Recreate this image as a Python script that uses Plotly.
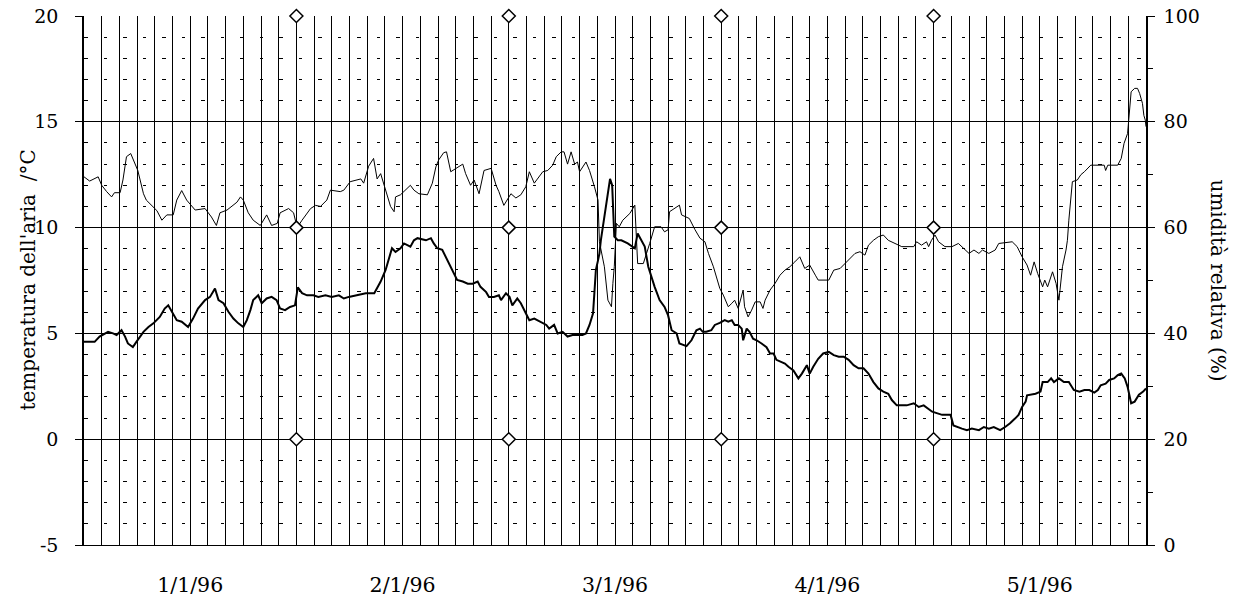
import plotly.graph_objects as go

# ---------------- data ----------------
# time axis in days from the left edge of the chart (each month label spaced 30 days)
label_days = [15, 45, 75, 105, 135]
label_text = ["1/1/96", "2/1/96", "3/1/96", "4/1/96", "5/1/96"]

temp_ticks = [-5, 0, 5, 10, 15, 20]
temp_tick_text = ["-5", "0", "5", "10", "15", "20"]

# thin line: air temperature (°C), left axis
temp_day = [
    0.0, 0.8, 2.0, 2.5, 3.2, 3.9, 4.3, 5.1, 5.5, 6.0,
    6.6, 6.9, 7.6, 8.4, 8.8, 10.3, 11.0, 11.7, 12.6, 13.1,
    13.8, 14.5, 15.7, 17.1, 18.0, 18.7, 19.2, 20.2, 21.6, 22.1,
    22.5, 23.2, 23.9, 24.9, 25.8, 26.5, 27.3, 27.7, 28.9, 29.6,
    30.1, 30.8, 32.0, 32.7, 33.4, 34.3, 34.8, 36.2, 36.7, 37.6,
    39.1, 39.5, 40.2, 40.9, 41.4, 41.9, 42.6, 43.3, 43.8, 44.0,
    44.7, 45.4, 46.1, 46.6, 47.3, 48.5, 49.2, 49.7, 50.1, 50.8,
    51.2, 51.8, 52.5, 53.5, 53.9, 54.6, 55.1, 55.8, 56.5, 57.5,
    58.2, 58.6, 59.3, 60.3, 61.0, 61.7, 62.4, 62.9, 63.6, 64.3,
    64.8, 65.5, 66.2, 66.7, 67.4, 67.8, 68.3, 68.8, 69.3, 69.7,
    70.0, 70.9, 71.4, 72.1, 72.6, 72.8, 73.5, 74.0, 74.5, 74.7,
    74.9, 75.2, 75.6, 76.1, 77.1, 77.8, 78.0, 78.2, 79.0, 79.4,
    79.9, 80.6, 81.5, 82.0, 82.5, 82.7, 83.4, 84.1, 84.4, 85.5,
    86.3, 87.0, 87.7, 88.2, 88.9, 89.3, 89.8, 90.3, 91.0, 91.5,
    91.9, 92.4, 92.9, 93.1, 93.3, 93.8, 94.3, 94.8, 95.5, 95.9,
    96.2, 96.9, 97.6, 98.3, 99.0, 99.7, 100.4, 101.1, 101.8, 102.5,
    103.3, 103.7, 105.2, 105.9, 106.8, 107.5, 108.2, 108.9, 109.6, 110.3,
    110.8, 111.5, 112.2, 112.9, 113.6, 114.1, 115.5, 117.2, 117.6, 118.3,
    119.0, 119.3, 119.7, 120.2, 120.7, 121.6, 122.6, 123.5, 124.2, 125.0,
    125.7, 126.4, 126.9, 127.8, 128.7, 129.2, 131.1, 131.8, 132.5, 133.2,
    133.7, 134.2, 134.7, 135.4, 135.7, 136.1, 136.8, 137.3, 137.7, 138.2,
    138.7, 138.9, 139.1, 139.4, 139.6, 140.3, 140.8, 141.3, 142.2, 144.1,
    144.3, 144.6, 146.0, 146.5, 146.9, 147.4, 147.7, 147.9, 148.4, 148.8,
    149.1, 149.5, 149.7, 149.9, 150.0,
]
temp_c = [
    12.4, 12.2, 12.4, 12.0, 11.7, 11.45, 11.65, 11.65, 12.25, 13.35,
    13.5, 13.27, 12.7, 11.6, 11.3, 10.8, 10.35, 10.6, 10.6, 11.3,
    11.75, 11.3, 10.83, 10.9, 10.5, 10.1, 10.7, 10.83, 11.2, 11.45,
    11.3, 10.7, 10.35, 10.1, 10.6, 10.1, 10.2, 10.7, 10.9, 10.7,
    10.0, 10.35, 10.9, 11.05, 11.0, 11.3, 11.77, 11.7, 11.77, 12.17,
    12.3, 12.1, 12.9, 13.27, 12.3, 12.55, 11.77, 11.0, 10.75, 11.45,
    11.55, 11.77, 12.0, 11.77, 11.6, 11.55, 12.1, 12.87, 13.2, 13.54,
    13.58, 12.64, 12.8, 13.0, 12.55, 12.0, 12.25, 11.6, 12.7, 12.8,
    12.0, 11.7, 11.05, 11.6, 11.4, 11.55, 11.93, 12.64, 12.1, 12.4,
    12.64, 12.7, 12.95, 13.35, 13.58, 13.58, 13.0, 13.58, 13.0, 13.1,
    12.64, 13.1, 12.7, 11.93, 11.3, 9.33, 8.15, 6.57, 6.26, 7.36,
    8.15, 10.2, 10.04, 10.35, 10.67, 11.06, 9.73, 8.3, 8.3, 8.78,
    9.25, 10.04, 10.04, 9.8, 9.9, 10.75, 10.9, 11.06, 10.6, 10.43,
    9.9, 9.5, 9.33, 8.78, 8.15, 7.67, 7.13, 6.81, 6.26, 6.42,
    6.57, 6.18, 6.73, 7.05, 6.26, 5.78, 6.1, 6.49, 6.49, 6.18,
    6.57, 7.05, 7.36, 7.75, 7.99, 8.15, 8.38, 8.62, 8.07, 8.23,
    7.75, 7.52, 7.52, 7.99, 8.07, 8.3, 8.54, 8.78, 8.86, 8.7,
    9.17, 9.4, 9.57, 9.65, 9.4, 9.33, 9.1, 9.1, 9.33, 9.17,
    9.33, 9.1, 9.4, 9.65, 9.33, 9.1, 9.1, 9.25, 9.02, 8.78,
    8.94, 8.78, 8.94, 8.78, 8.94, 9.25, 9.33, 9.1, 8.62, 8.23,
    7.75, 8.38, 7.83, 7.2, 7.52, 7.2, 7.91, 7.36, 6.57, 8.15,
    8.94, 9.4, 10.35, 11.3, 12.17, 12.25, 12.5, 12.64, 12.95, 12.95,
    12.7, 12.95, 12.95, 13.27, 13.98, 14.45, 15.56, 16.42, 16.58, 16.58,
    16.34, 15.87, 15.3, 15.08, 14.77,
]

# thick line: relative humidity (%), right axis
hum_day = [
    0.0, 1.5, 2.2, 3.4, 4.1, 4.6, 5.3, 5.8, 6.2, 6.9,
    7.4, 7.9, 8.4, 9.1, 9.8, 10.7, 11.4, 11.9, 12.4, 13.1,
    13.8, 14.3, 14.7, 15.4, 16.1, 17.1, 17.8, 18.5, 19.0, 19.7,
    20.4, 21.1, 21.8, 22.5, 23.0, 23.5, 23.9, 24.6, 25.1, 25.8,
    26.5, 27.2, 27.7, 28.4, 29.1, 29.8, 30.2, 30.8, 31.5, 32.4,
    33.1, 34.1, 35.0, 36.0, 36.7, 37.4, 38.6, 39.8, 41.0, 41.6,
    41.9, 42.6, 43.1, 43.5, 44.0, 44.7, 45.2, 46.1, 46.6, 47.1,
    48.3, 49.0, 49.4, 49.9, 50.6, 51.3, 52.0, 52.7, 53.5, 54.2,
    54.9, 55.6, 56.0, 56.8, 57.2, 57.9, 58.6, 58.9, 59.6, 60.1,
    60.5, 61.2, 61.7, 62.2, 62.9, 63.6, 64.5, 65.3, 65.7, 66.4,
    66.9, 67.6, 68.3, 69.0, 69.7, 70.4, 70.9, 71.4, 71.9, 72.1,
    72.3, 72.6, 72.8, 73.0, 73.7, 74.3, 74.6, 74.9, 75.4, 75.9,
    76.8, 77.8, 78.2, 78.7, 79.2, 79.7, 80.1, 80.6, 81.3, 82.0,
    82.5, 83.0, 83.7, 84.1, 85.1, 85.8, 86.5, 87.0, 87.4, 87.9,
    88.6, 89.1, 89.8, 90.5, 91.0, 91.5, 91.9, 92.4, 92.9, 93.1,
    93.6, 94.0, 94.5, 95.0, 95.7, 96.4, 96.9, 97.4, 97.8, 98.5,
    99.0, 99.5, 100.2, 100.9, 101.4, 102.1, 102.5, 103.0, 103.7, 104.4,
    105.2, 105.9, 106.6, 107.3, 108.0, 108.7, 109.4, 110.1, 110.8, 111.5,
    112.2, 112.9, 113.6, 114.1, 114.8, 116.2, 117.2, 117.9, 118.6, 119.8,
    120.5, 121.2, 122.4, 122.8, 124.0, 124.7, 125.4, 126.4, 127.1, 127.8,
    128.5, 129.4, 130.1, 130.8, 131.5, 132.0, 132.5, 133.0, 133.2, 134.4,
    135.1, 135.4, 136.1, 136.6, 137.0, 137.7, 138.4, 139.1, 139.8, 140.6,
    141.3, 142.0, 142.7, 143.2, 143.6, 144.3, 144.8, 145.5, 146.0, 146.5,
    147.0, 147.4, 147.9, 148.4, 149.0, 149.6, 150.0,
]
hum_pct = [
    38.4, 38.4, 39.4, 40.3, 40.0, 39.7, 40.6, 39.4, 38.1, 37.4,
    38.4, 39.4, 40.3, 41.2, 41.9, 43.1, 44.7, 45.3, 44.1, 42.5,
    42.2, 41.6, 41.2, 42.8, 44.7, 46.3, 46.9, 48.5, 46.3, 45.7,
    44.1, 42.8, 41.9, 41.2, 42.5, 44.4, 46.3, 47.2, 45.7, 46.6,
    46.9, 46.3, 44.7, 44.4, 45.0, 45.3, 48.7, 47.6, 47.2, 47.2,
    46.9, 47.2, 46.9, 47.2, 46.6, 46.9, 47.2, 47.6, 47.6, 49.1,
    49.8, 52.0, 54.5, 56.1, 55.4, 56.1, 57.0, 56.4, 57.6, 58.0,
    57.6, 58.0, 57.0, 56.1, 55.8, 53.8, 52.0, 50.1, 49.8, 49.4,
    49.4, 49.8, 48.8, 47.8, 46.9, 46.9, 47.2, 46.3, 47.6, 46.9,
    45.3, 46.6, 45.7, 44.4, 42.5, 42.8, 42.2, 41.6, 40.9, 41.6,
    40.0, 40.3, 39.4, 39.7, 39.7, 39.7, 40.0, 41.6, 43.8, 48.2,
    52.0, 53.8, 55.1, 57.6, 64.0, 69.2, 68.0, 58.3, 57.6, 57.6,
    57.0, 56.1, 58.9, 57.6, 56.4, 52.6, 50.7, 48.8, 46.3, 45.0,
    43.4, 40.6, 40.0, 38.1, 37.6, 38.7, 40.6, 40.9, 40.3, 40.3,
    40.6, 41.6, 42.0, 42.5, 42.2, 42.5, 41.6, 41.6, 40.9, 38.7,
    40.9, 40.3, 39.0, 38.7, 38.1, 37.4, 36.2, 36.2, 35.0, 34.6,
    34.3, 33.7, 33.0, 31.5, 32.4, 34.0, 32.4, 33.7, 35.2, 36.2,
    36.5, 35.9, 35.6, 35.6, 35.0, 34.0, 33.4, 33.4, 32.4, 30.8,
    29.6, 29.0, 28.6, 27.4, 26.4, 26.4, 26.8, 26.1, 26.4, 25.2,
    24.9, 24.6, 24.6, 22.6, 22.0, 21.7, 22.0, 21.7, 22.3, 22.0,
    22.3, 21.7, 22.3, 23.0, 23.9, 24.6, 26.1, 27.1, 28.3, 28.6,
    29.0, 30.8, 30.8, 31.5, 30.8, 31.5, 30.8, 30.8, 29.3, 29.0,
    29.3, 29.3, 28.8, 29.3, 30.2, 30.5, 31.2, 31.5, 32.1, 32.4,
    31.5, 29.9, 26.8, 27.1, 28.4, 29.0, 29.6,
]

# reference diamond markers (temperature axis)
marker_days = [30, 60, 90, 120]
marker_levels = [20, 10, 0]

# ---------------- figure ----------------
FONT = "DejaVu Serif"

fig = go.Figure()
fig.add_trace(go.Scatter(x=temp_day, y=temp_c, mode="lines",
                         line=dict(color="black", width=1), yaxis="y",
                         showlegend=False, hoverinfo="skip"))
fig.add_trace(go.Scatter(x=hum_day, y=hum_pct, mode="lines",
                         line=dict(color="black", width=2), yaxis="y2",
                         showlegend=False, hoverinfo="skip"))

mx = [d for lv in marker_levels for d in marker_days]
my = [lv for lv in marker_levels for d in marker_days]
fig.add_trace(go.Scatter(x=mx, y=my, mode="markers", yaxis="y",
                         marker=dict(symbol="diamond", size=10, color="white",
                                     line=dict(color="black", width=1.5)),
                         cliponaxis=False, showlegend=False, hoverinfo="skip"))

fig.update_layout(
    width=1244, height=604,
    margin=dict(l=84, r=98, t=16, b=59, autoexpand=False),
    paper_bgcolor="white", plot_bgcolor="white",
    font=dict(family=FONT, size=19, color="black"),
    hovermode=False,
    xaxis=dict(
        range=[0, 150], tickmode="array", tickvals=label_days, ticktext=label_text,
        ticks="", showgrid=True, gridcolor="black", gridwidth=1,
        zeroline=False, showline=True, linecolor="black", linewidth=1,
        mirror=False, ticklabelstandoff=21, automargin=False,
        tickfont=dict(family=FONT, size=20.5, color="black"),
        minor=dict(tick0=0, dtick=2.5, showgrid=True, gridcolor="black",
                   gridwidth=1, ticks=""),
    ),
    yaxis=dict(
        range=[-5, 20], tickmode="array", tickvals=temp_ticks,
        ticktext=temp_tick_text, ticks="outside", ticklen=7,
        tickcolor="black", tickwidth=1, showgrid=True, gridcolor="black",
        gridwidth=1, zeroline=False, showline=True, linecolor="black",
        linewidth=1.5, ticklabelstandoff=13, ticklabeloverflow="allow",
        automargin=False,
        tickfont=dict(family=FONT, size=19, color="black"),
        minor=dict(tickmode="linear", tick0=0, dtick=1, showgrid=True,
                   gridcolor="black", gridwidth=1, griddash="3.5px,16px",
                   ticks=""),
    ),
    yaxis2=dict(
        range=[0, 100], tick0=0, dtick=20, overlaying="y", side="right",
        ticks="outside", ticklen=7, tickcolor="black", tickwidth=1,
        showgrid=False, zeroline=False, showline=True, linecolor="black",
        linewidth=1.5, ticklabelstandoff=5, ticklabeloverflow="allow",
        automargin=False,
        tickfont=dict(family=FONT, size=19, color="black"),
        minor=dict(tick0=0, dtick=10, ticks="outside", ticklen=5,
                   tickcolor="black", showgrid=False),
    ),
    annotations=[
        dict(text="temperatura dell'aria \u00a0/°C", xref="paper", yref="paper",
             x=(27 - 84) / 1062, y=0.5, xanchor="center", yanchor="middle",
             textangle=-90, showarrow=False,
             font=dict(family=FONT, size=20, color="black")),
        dict(text="umidità relativa (%)", xref="paper", yref="paper",
             x=(1218 - 84) / 1062, y=0.5, xanchor="center", yanchor="middle",
             textangle=90, showarrow=False,
             font=dict(family=FONT, size=20, color="black")),
    ],
)

# remove the browser's default body margin so the figure sits at the page origin
fig.write_html("out.html", config={"displayModeBar": False},
               post_script="document.body.style.margin='0px';")
